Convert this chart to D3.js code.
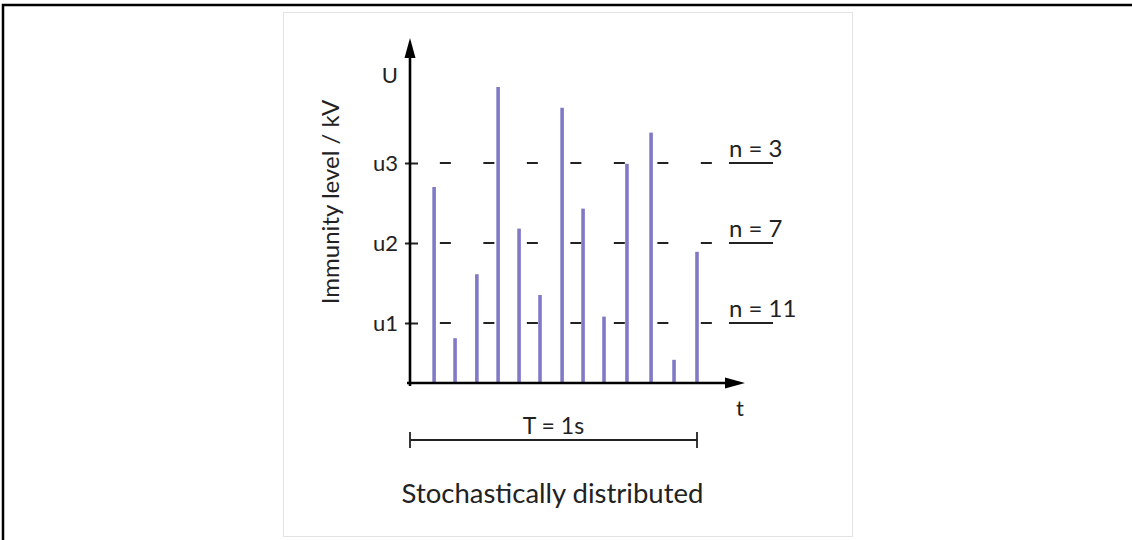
<!DOCTYPE html>
<html>
<head>
<meta charset="utf-8">
<script src="https://cdn.jsdelivr.net/npm/d3@7"></script>
<style>
	body { margin: 0; background: #fff; }
	text { font-family: Lato, "Open Sans", sans-serif; fill: #222; }
</style>
</head>
<body>
<script>
// pulse times as fraction of T, and pulse heights (arbitrary kV units)
const pulseTimes = [0.084, 0.157, 0.233, 0.307, 0.380, 0.453, 0.530, 0.603, 0.676, 0.756, 0.840, 0.920, 1.0]
const pulseLevels = [2.45, 0.56, 1.36, 3.70, 1.93, 1.10, 3.44, 2.18, 0.83, 2.74, 3.13, 0.29, 1.64]

// immunity thresholds and count of pulses over each one
const levelNames = ["u1", "u2", "u3"]
const levelValues = [0.75, 1.75, 2.75]
const levelCounts = ["n = 11", "n = 7", "n = 3"]

const width = 1132,
	height = 540;

const svg = d3.select("body").append("svg")
	.attr("width", width)
	.attr("height", height);

// outer frame (only top and left are visible)
svg.append("path")
	.attr("d", "M3,540 V5 H1132")
	.attr("fill", "none")
	.attr("stroke", "#000")
	.attr("stroke-width", 2.5);

// picture panel
svg.append("rect")
	.attr("x", 283.5).attr("y", 12.5)
	.attr("width", 569).attr("height", 524)
	.attr("fill", "#fff")
	.attr("stroke", "#e2e2e2");

// scales
const x = d3.scaleLinear().domain([0, 1]).range([410, 697]);
const y = d3.scaleLinear().domain([0, 4]).range([383, 63]);

// threshold dashed lines
svg.selectAll(".level")
	.data(levelValues)
	.enter().append("line")
	.attr("class", "level")
	.attr("x1", x(0.104)).attr("x2", x(1.055))
	.attr("y1", d => y(d)).attr("y2", d => y(d))
	.attr("stroke", "#222")
	.attr("stroke-width", 2)
	.attr("stroke-dasharray", "11,32.5");

// pulses
svg.selectAll(".bar")
	.data(pulseTimes)
	.enter().append("line")
	.attr("class", "bar")
	.attr("x1", d => x(d)).attr("x2", d => x(d))
	.attr("y1", y(0))
	.attr("y2", (d, i) => y(pulseLevels[i]))
	.attr("stroke", "#807ac6")
	.attr("stroke-width", 3.6);

// y axis with custom ticks, U sits above u3
const topTick = 3.85;
const yAxis = d3.axisLeft(y)
	.tickValues(levelValues.concat([topTick]))
	.tickFormat(d => d === topTick ? "U" : levelNames[levelValues.indexOf(d)])
	.tickSize(0)
	.tickPadding(12);

const yg = svg.append("g")
	.attr("transform", "translate(410,0)")
	.call(yAxis);
yg.select(".domain").remove();
yg.selectAll(".tick text")
	.style("font-size", "22px")
	.attr("fill", "#222");
yg.selectAll(".tick")
	.filter(d => d !== topTick)
	.append("line")
	.attr("x1", -5).attr("x2", 8)
	.attr("stroke", "#222")
	.attr("stroke-width", 2);

// axis lines with arrows
svg.append("line")
	.attr("x1", 410).attr("x2", 410)
	.attr("y1", y(0) + 3).attr("y2", 56)
	.attr("stroke", "#000").attr("stroke-width", 2.6);
svg.append("path")
	.attr("d", "M410,38 L404.5,58 L415.5,58 Z")
	.attr("fill", "#000");

svg.append("line")
	.attr("x1", 407).attr("x2", 727)
	.attr("y1", y(0)).attr("y2", y(0))
	.attr("stroke", "#000").attr("stroke-width", 2.6);
svg.append("path")
	.attr("d", "M745,383 L725,377.5 L725,388.5 Z")
	.attr("fill", "#000");

// count labels at the right
const countG = svg.selectAll(".count")
	.data(levelValues)
	.enter().append("g")
	.attr("class", "count")
	.attr("transform", d => "translate(729," + y(d) + ")");
countG.append("text")
	.attr("y", -6)
	.style("font-size", "24px")
	.text((d, i) => levelCounts[i]);
countG.append("line")
	.attr("x1", 0).attr("x2", 44)
	.attr("stroke", "#222")
	.attr("stroke-width", 2);

// axis titles
svg.append("text")
	.attr("transform", "translate(339,202) rotate(-90)")
	.attr("text-anchor", "middle")
	.style("font-size", "24px")
	.text("Immunity level / kV");

svg.append("text")
	.attr("x", 740).attr("y", 416)
	.attr("text-anchor", "middle")
	.style("font-size", "22px")
	.text("t");

// period bracket
const bracket = svg.append("g").attr("stroke", "#222").attr("stroke-width", 1.8);
bracket.append("line").attr("x1", x(0)).attr("x2", x(1)).attr("y1", 440).attr("y2", 440);
bracket.append("line").attr("x1", x(0)).attr("x2", x(0)).attr("y1", 432).attr("y2", 448);
bracket.append("line").attr("x1", x(1)).attr("x2", x(1)).attr("y1", 432).attr("y2", 448);

svg.append("text")
	.attr("x", x(0.5)).attr("y", 434)
	.attr("text-anchor", "middle")
	.style("font-size", "23px")
	.text("T = 1s");

svg.append("text")
	.attr("x", x(0.5) - 1).attr("y", 503)
	.attr("text-anchor", "middle")
	.style("font-size", "27.5px")
	.text("Stochastically distributed");
</script>
</body>
</html>
